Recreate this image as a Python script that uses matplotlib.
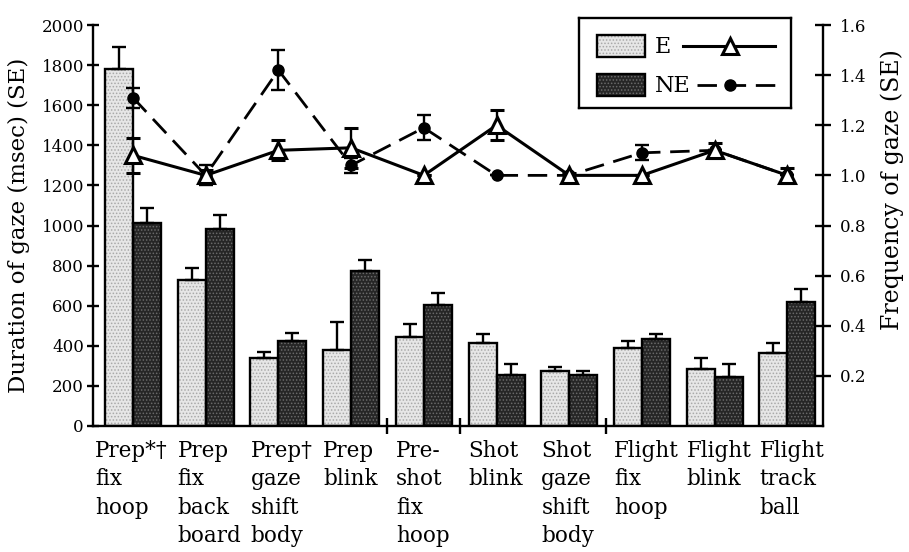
import matplotlib
matplotlib.use("Agg")
import matplotlib.pyplot as plt
from matplotlib.patches import Rectangle
from matplotlib.lines import Line2D
import numpy as np

plt.rcParams['font.family'] = ['DejaVu Serif']
plt.rcParams['hatch.linewidth'] = 0.7

# Gaze behaviours, grouped by phase of the free throw
categories = ["Prep*\u2020\nfix\nhoop", "Prep\nfix\nback\nboard", "Prep\u2020\ngaze\nshift\nbody",
              "Prep\nblink", "Pre-\nshot\nfix\nhoop", "Shot\nblink", "Shot\ngaze\nshift\nbody",
              "Flight\nfix\nhoop", "Flight\nblink", "Flight\ntrack\nball"]

# Duration of gaze (msec) and standard errors
dur_E = [1780, 730, 340, 380, 445, 415, 275, 390, 285, 365]
dur_E_se = [110, 60, 30, 140, 65, 45, 20, 35, 55, 50]
dur_NE = [1010, 985, 425, 775, 605, 255, 255, 435, 245, 620]
dur_NE_se = [75, 65, 40, 55, 60, 55, 20, 25, 65, 65]

# Frequency of gaze and standard errors
freq_E = [1.08, 1.0, 1.1, 1.11, 1.0, 1.2, 1.0, 1.0, 1.1, 1.0]
freq_E_se = [0.07, 0.02, 0.04, 0.08, 0.0, 0.06, 0.01, 0.0, 0.03, 0.03]
freq_NE = [1.31, 1.0, 1.42, 1.04, 1.19, 1.0, 1.0, 1.09, 1.1, 1.0]
freq_NE_se = [0.04, 0.04, 0.08, 0.03, 0.05, 0.0, 0.0, 0.03, 0.0, 0.0]

phase_breaks = [3.5, 4.5, 6.5]
dur_ticks = list(range(0, 2001, 200))
freq_ticks = [0.2, 0.4, 0.6, 0.8, 1.0, 1.2, 1.4, 1.6]

W, H = 909, 552
fig = plt.figure(figsize=(W / 100, H / 100), dpi=100)
L, R, T, B = 93, 823, 25, 426
ax = fig.add_axes([L / W, 1 - B / H, (R - L) / W, (B - T) / H])

x = np.arange(len(categories))
bw = 0.385
light, light_dots = '#e6e6e6', '#a8a8a8'
dark, dark_dots = '#262626', '#6a6a6a'
lw = 1.7


def stipple_bars(axis, xpos, heights, face, dots):
    axis.bar(xpos, heights, bw, color=face, edgecolor=dots, hatch='.....',
             linewidth=0, zorder=2)
    axis.bar(xpos, heights, bw, facecolor='none', edgecolor='black',
             linewidth=lw, zorder=3)


stipple_bars(ax, x - bw / 2, dur_E, light, light_dots)
stipple_bars(ax, x + bw / 2, dur_NE, dark, dark_dots)
zeros = np.zeros(len(x))
ax.errorbar(x - bw / 2, dur_E, yerr=[zeros, dur_E_se], fmt='none', ecolor='black',
            elinewidth=lw, capsize=5, capthick=lw, zorder=4)
ax.errorbar(x + bw / 2, dur_NE, yerr=[zeros, dur_NE_se], fmt='none', ecolor='black',
            elinewidth=lw, capsize=5, capthick=lw, zorder=4)

ax.set_xlim(-0.55, 9.49)
ax.set_ylim(0, 2000)
ax.set_yticks(dur_ticks)
ax.set_xticks(phase_breaks)
ax.set_xticklabels([])
ax.tick_params(axis='y', direction='inout', length=9, width=lw, labelsize=12, pad=2)
ax.tick_params(axis='x', direction='inout', length=12, width=lw)
for s in ['top', 'right']:
    ax.spines[s].set_visible(False)
for s in ['left', 'bottom']:
    ax.spines[s].set_linewidth(lw)
ax.set_ylabel("Duration of gaze (msec) (SE)", fontsize=16.5, va='center')
ax.yaxis.set_label_coords(-0.102, 0.5)

# Category labels, left aligned under each pair of bars
for i, lab in enumerate(categories):
    xo = i - bw - (0.14 if i == 0 else 0.0)
    ax.text(xo, -0.035, lab, transform=ax.get_xaxis_transform(), ha='left', va='top',
            fontsize=15.5, linespacing=1.38)

# Frequency of gaze on the right-hand axis
ax2 = ax.twinx()
ax2.set_ylim(0, 1.6)
ax2.set_yticks(freq_ticks)
ax2.set_yticklabels([f"{t:.1f}" for t in freq_ticks])
ax2.tick_params(axis='y', direction='inout', length=12, width=lw, labelsize=12, pad=6)
for s in ['top', 'left', 'bottom']:
    ax2.spines[s].set_visible(False)
ax2.spines['right'].set_linewidth(lw)
ax2.set_ylabel("Frequency of gaze (SE)", fontsize=17, rotation=90, va='center')
ax2.yaxis.set_label_coords(1.0945, 0.59)

ne_style = dict(color='black', linestyle=(0, (7, 3.5)), linewidth=2, marker='o',
                markersize=8, markerfacecolor='black', markeredgecolor='black')
e_style = dict(color='black', linestyle='-', linewidth=2.2, marker='^',
               markersize=11, markerfacecolor='white', markeredgecolor='black',
               markeredgewidth=2.2)

ax2.errorbar(x, freq_NE, yerr=freq_NE_se, ecolor='black', elinewidth=lw,
             capsize=5, capthick=lw, zorder=5, **ne_style)
ax2.errorbar(x, freq_E, yerr=freq_E_se, ecolor='black', elinewidth=lw,
             capsize=5, capthick=lw, zorder=6, **e_style)

# Legend panel: bar swatch, label and line sample for each group
lx0, ly0, lx1, ly1 = 579, 18, 791, 108
lax = fig.add_axes([lx0 / W, 1 - ly1 / H, (lx1 - lx0) / W, (ly1 - ly0) / H])
lax.set_xlim(lx0, lx1)
lax.set_ylim(ly1, ly0)
lax.set_xticks([])
lax.set_yticks([])
for s in lax.spines.values():
    s.set_linewidth(lw)
for (face, dots, lab, style, yc) in [(light, light_dots, 'E', e_style, 46),
                                      (dark, dark_dots, 'NE', ne_style, 85)]:
    lax.add_patch(Rectangle((597, yc - 11), 48, 22, facecolor=face, edgecolor=dots,
                            hatch='.....', linewidth=0))
    lax.add_patch(Rectangle((597, yc - 11), 48, 22, facecolor='none',
                            edgecolor='black', linewidth=lw))
    lax.text(655, yc + 1, lab, fontsize=16, ha='left', va='center')
    x_start = 683 if lab == 'E' else 697
    lax.add_line(Line2D([x_start, 730, 775], [yc, yc, yc], markevery=[1], **style))

fig.savefig("out.png", dpi=100)
